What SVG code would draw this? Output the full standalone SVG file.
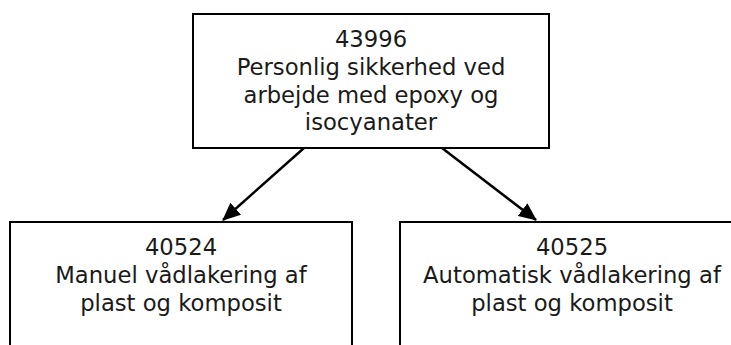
<svg xmlns="http://www.w3.org/2000/svg" width="731" height="345" viewBox="0 0 731 345">
<style>
.box{fill:#fff;stroke:#000;stroke-width:2}
.t{font-family:"DejaVu Sans",Verdana,sans-serif;font-size:22.7px;fill:#1a1a1a;text-anchor:middle}
.c{stroke:#000;stroke-width:2.5;fill:none}
</style>
<defs>
<marker id="ah" markerWidth="18" markerHeight="16" refX="17" refY="8" orient="auto" markerUnits="userSpaceOnUse" viewBox="0 0 18 16">
<path d="M0,0 L18,8 L0,16 z" fill="#000"/>
</marker>
</defs>
<rect width="731" height="345" fill="#fff"/>
<g id="connectors">
<line class="c" x1="304" y1="148" x2="223" y2="220" marker-end="url(#ah)"/>
<line class="c" x1="442" y1="148" x2="536" y2="220" marker-end="url(#ah)"/>
</g>
<g id="n43996">
<rect class="box" x="193" y="14" width="356" height="134"/>
<text class="t" x="371" y="47">43996</text>
<text class="t" x="371" y="75">Personlig sikkerhed ved</text>
<text class="t" x="371" y="103">arbejde med epoxy og</text>
<text class="t" x="371" y="130">isocyanater</text>
</g>
<g id="n40524">
<rect class="box" x="10" y="222" width="342" height="140"/>
<text class="t" x="181" y="255">40524</text>
<text class="t" x="181" y="283">Manuel vådlakering af</text>
<text class="t" x="181" y="311">plast og komposit</text>
</g>
<g id="n40525">
<rect class="box" x="400" y="222" width="344" height="140"/>
<text class="t" x="572" y="255">40525</text>
<text class="t" x="572" y="283">Automatisk vådlakering af</text>
<text class="t" x="572" y="311">plast og komposit</text>
</g>
</svg>
